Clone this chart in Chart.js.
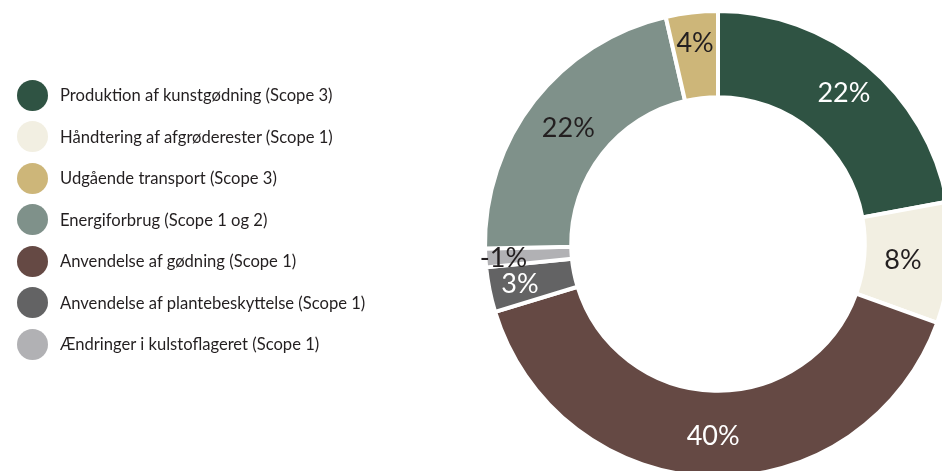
<!DOCTYPE html>
<html><head><meta charset="utf-8">
<script src="https://cdn.jsdelivr.net/npm/chart.js@4"></script>
<style>
html,body{margin:0;padding:0;background:#fff;overflow:hidden;width:942px;height:471px;}
#wrap{position:absolute;left:0;top:0;width:960px;height:490px;}
#legend{position:absolute;left:17px;top:74.5px;font-family:Lato,"Open Sans",sans-serif;font-size:16.6px;color:#231f20;}
.item{display:flex;align-items:center;height:41.5px;white-space:nowrap;}
.dot{width:31px;height:31px;border-radius:50%;margin-right:12px;flex:none;}
</style></head><body>
<div id="wrap"><canvas id="c" width="960" height="490"></canvas></div>
<div id="legend"></div>
<script>
// Slices in drawing order (clockwise from 12 o'clock)
const categories = [
  "Produktion af kunstgødning (Scope 3)",
  "Håndtering af afgrøderester (Scope 1)",
  "Anvendelse af gødning (Scope 1)",
  "Anvendelse af plantebeskyttelse (Scope 1)",
  "Ændringer i kulstoflageret (Scope 1)",
  "Energiforbrug (Scope 1 og 2)",
  "Udgående transport (Scope 3)"
];
const values = [22.1, 8.4, 39.8, 3.1, 1.3, 21.7, 3.6];
const valueLabels = ["22%", "8%", "40%", "3%", "-1%", "22%", "4%"];
const colors = ["#2f5343", "#f2efe2", "#654944", "#636364", "#b1b1b4", "#7f918a", "#cdb679"];
const labelColors = ["#ffffff", "#231f20", "#ffffff", "#ffffff", "#231f20", "#231f20", "#231f20"];
const legendOrder = [0, 1, 6, 5, 2, 3, 4];
// label placement across ring thickness (0 = inner edge, 1 = outer edge)
const labelDepth = [0.58, 0.45, 0.52, 0.64, 0.79, 0.5, 0.65];

const legendEl = document.getElementById('legend');
legendOrder.forEach(i => {
  const row = document.createElement('div');
  row.className = 'item';
  const dot = document.createElement('span');
  dot.className = 'dot';
  dot.style.background = colors[i];
  const txt = document.createElement('span');
  txt.textContent = categories[i];
  row.appendChild(dot); row.appendChild(txt);
  legendEl.appendChild(row);
});

const sliceLabels = {
  id: 'sliceLabels',
  afterDatasetsDraw(chart) {
    const ctx = chart.ctx;
    const meta = chart.getDatasetMeta(0);
    const size = 27;
    ctx.save();
    ctx.font = '400 ' + size + 'px Lato, "Open Sans", sans-serif';
    ctx.textAlign = 'center';
    ctx.textBaseline = 'alphabetic';
    meta.data.forEach((arc, i) => {
      const p = arc.getProps(['x', 'y', 'startAngle', 'endAngle', 'innerRadius', 'outerRadius'], true);
      const a = (p.startAngle + p.endAngle) / 2;
      const r = p.innerRadius + (p.outerRadius - p.innerRadius) * labelDepth[i];
      const x = p.x + r * Math.cos(a);
      const y = p.y + r * Math.sin(a);
      ctx.fillStyle = labelColors[i];
      ctx.fillText(valueLabels[i], x, y + size * 0.36);
    });
    ctx.restore();
  }
};

new Chart(document.getElementById('c'), {
  type: 'doughnut',
  data: {
    labels: categories,
    datasets: [{
      data: values,
      backgroundColor: colors,
      borderColor: '#ffffff',
      borderWidth: 4,
      hoverOffset: 0
    }]
  },
  options: {
    responsive: false,
    devicePixelRatio: 1,
    animation: false,
    cutout: '63%',
    layout: { padding: { left: 483, right: 7, top: 9, bottom: 11 } },
    plugins: { legend: { display: false }, tooltip: { enabled: false } }
  },
  plugins: [sliceLabels]
});
</script>
</body></html>
